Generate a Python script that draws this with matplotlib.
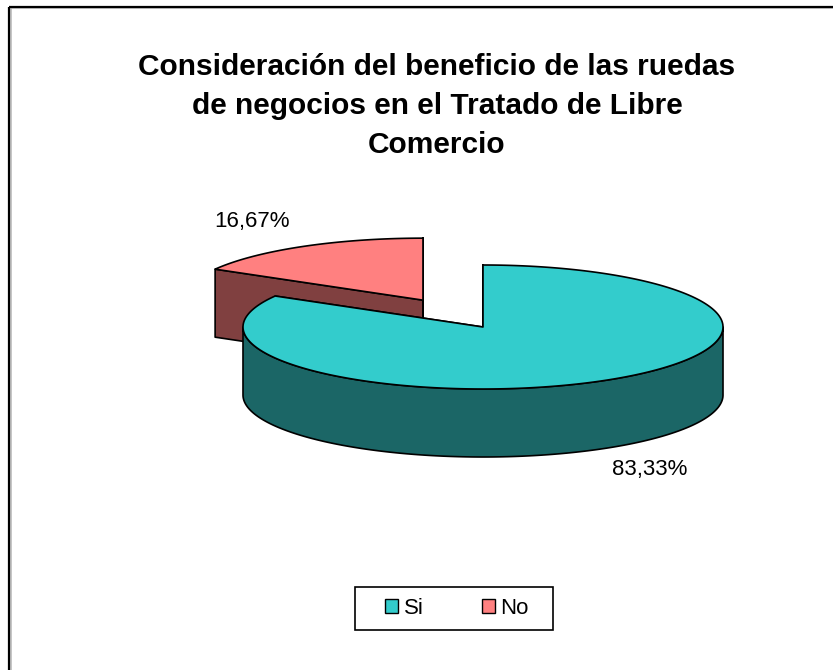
import numpy as np
import matplotlib
matplotlib.use("Agg")
import matplotlib.pyplot as plt
from matplotlib.patches import Polygon, Rectangle, Patch

plt.rcParams['font.family'] = ['Liberation Sans', 'DejaVu Sans']

# ---- data ----
title_lines = ["Consideración del beneficio de las ruedas",
               "de negocios en el Tratado de Libre",
               "Comercio"]
categories = ["Si", "No"]
values = [83.33, 16.67]
labels = ["83,33%", "16,67%"]
top_colors = ["#33CCCC", "#FF8080"]
side_colors = ["#1B6666", "#804040"]
explode = [0.0, 0.5]

# ---- figure ----
W, H = 833, 670
fig = plt.figure(figsize=(W / 100, H / 100), dpi=100)
ax = fig.add_axes([0, 0, 1, 1])
ax.set_xlim(0, W)
ax.set_ylim(H, 0)
ax.axis('off')

# chart frame
ax.add_patch(Rectangle((11, 8), W + 20, H + 20, fill=False, edgecolor='#BBBBBB', lw=1.2))
ax.add_patch(Rectangle((9.5, 6.5), W + 20, H + 20, fill=False, edgecolor='black', lw=1.6))

# pie geometry (pixel space)
cx, cy = 483, 327
rx, ry = 240, 62
depth = 68


def pt(c, th, dz=0.0):
    t = np.deg2rad(th)
    return (c[0] + rx * np.cos(t), c[1] - ry * np.sin(t) + dz)


total = sum(values)
start = 90.0
slices = []
for v, tc, sc, ex in zip(values, top_colors, side_colors, explode):
    sweep = 360.0 * v / total
    th0, th1 = start, start - sweep  # clockwise
    mid = np.deg2rad((th0 + th1) / 2)
    c = (cx + ex * rx * np.cos(mid), cy - ex * ry * np.sin(mid))
    slices.append((th0, th1, c, tc, sc))
    start = th1

edge = dict(edgecolor='black', lw=1.2, joinstyle='round')

# draw back-most slice first (exploded No slice sits behind)
for th0, th1, c, tc, sc in [slices[1], slices[0]]:
    for th in (th0, th1):
        p = pt(c, th)
        quad = [c, p, (p[0], p[1] + depth), (c[0], c[1] + depth)]
        ax.add_patch(Polygon(quad, closed=True, facecolor=sc, **edge))
    a = max(th1, -180.0)
    b = min(th0, 0.0)
    if b > a:
        ths = np.linspace(a, b, 200)
        topp = [pt(c, t) for t in ths]
        botp = [pt(c, t, depth) for t in ths[::-1]]
        ax.add_patch(Polygon(topp + botp, closed=True, facecolor=sc, **edge))
    ths = np.linspace(th0, th1, 400)
    poly = [c] + [pt(c, t) for t in ths]
    ax.add_patch(Polygon(poly, closed=True, facecolor=tc, **edge))

# data labels
ax.text(650, 469, labels[0], ha='center', va='center', fontsize=16, color='black')
ax.text(252, 221, labels[1], ha='center', va='center', fontsize=16, color='black')

# title
for line, y in zip(title_lines, [67, 106, 145]):
    ax.text(437, y, line, ha='center', va='center', fontsize=21.5, fontweight='bold')

# legend box and entries
ax.add_patch(Rectangle((355, 587), 198, 43, fill=False, edgecolor='black', lw=1.2))
handles = [Patch(facecolor=c, edgecolor='black', lw=1.0) for c in top_colors]
leg = fig.legend(handles, categories, loc='center', ncol=2,
                 bbox_to_anchor=(457 / W, 1 - 608 / H), frameon=False,
                 fontsize=16, handlelength=0.6, handleheight=0.6,
                 handletextpad=0.25, columnspacing=2.6, borderpad=0.3,
                 borderaxespad=0)

fig.savefig('out.png', dpi=100, facecolor='white')
